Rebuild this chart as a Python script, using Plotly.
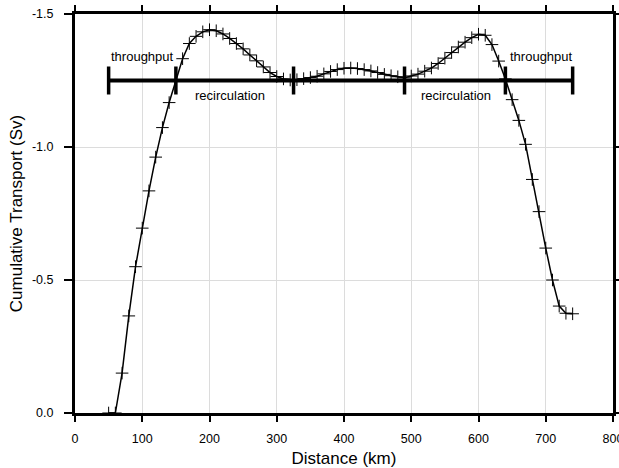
import plotly.graph_objects as go

# Cumulative transport along the section
distance_km = [50, 60, 70, 80, 90, 100, 110, 120, 130, 140,
               150, 160, 170, 180, 190, 200, 210, 220, 230, 240,
               250, 260, 270, 280, 290, 300, 310, 320, 330, 340,
               350, 360, 370, 380, 390, 400, 410, 420, 430, 440,
               450, 460, 470, 480, 490, 500, 510, 520, 530, 540,
               550, 560, 570, 580, 590, 600, 610, 620, 630, 640,
               650, 660, 670, 680, 690, 700, 710, 720, 730, 740]
transport_sv = [0.0, 0.0, -0.15, -0.365, -0.55, -0.695, -0.835, -0.962, -1.073, -1.167,
                -1.252, -1.332, -1.389, -1.416, -1.433, -1.441, -1.437, -1.425, -1.408, -1.389,
                -1.369, -1.346, -1.324, -1.301, -1.280, -1.265, -1.256, -1.252, -1.253, -1.257,
                -1.261, -1.266, -1.275, -1.284, -1.291, -1.296, -1.297, -1.295, -1.291, -1.286,
                -1.280, -1.273, -1.268, -1.264, -1.260, -1.267, -1.274, -1.285, -1.297, -1.314,
                -1.334, -1.355, -1.376, -1.394, -1.411, -1.424, -1.420, -1.385, -1.323, -1.256,
                -1.178, -1.100, -1.010, -0.878, -0.757, -0.620, -0.500, -0.402, -0.375, -0.373]

# Segment bar marking throughput / recirculation regions
bar_level = -1.25
bar_breaks = [50, 150, 325, 490, 640, 740]

segment_labels = ["throughput", "recirculation", "recirculation", "throughput"]
label_x = [100, 231, 567, 693]
label_y = [-1.342, -1.194, -1.194, -1.342]

x_ticks = [0, 100, 200, 300, 400, 500, 600, 700, 800]
y_ticks = [0.0, -0.5, -1.0, -1.5]

fig = go.Figure()

fig.add_trace(go.Scatter(
    x=[bar_breaks[0], bar_breaks[-1]], y=[bar_level, bar_level],
    mode="lines", line=dict(color="black", width=4),
    hoverinfo="skip", showlegend=False,
))
fig.add_trace(go.Scatter(
    x=bar_breaks, y=[bar_level] * len(bar_breaks),
    mode="markers",
    marker=dict(symbol="line-ns", size=20, color="black",
                line=dict(color="black", width=3.5)),
    hoverinfo="skip", showlegend=False,
))

fig.add_trace(go.Scatter(
    x=distance_km, y=transport_sv,
    mode="lines+markers",
    line=dict(color="black", width=1.5),
    marker=dict(symbol="cross-thin", size=9, color="black",
                line=dict(color="black", width=1)),
    showlegend=False,
))

for text, lx, ly in zip(segment_labels, label_x, label_y):
    fig.add_annotation(x=lx, y=ly, text=text, showarrow=False,
                       font=dict(family="Liberation Sans, Arial, sans-serif",
                                 size=13, color="black"))

axis_font = dict(family="Liberation Sans, Arial, sans-serif", size=12.5, color="black")
title_font = dict(family="Liberation Sans, Arial, sans-serif", size=17, color="black")

fig.update_xaxes(
    range=[0, 800], tickvals=x_ticks, ticktext=[str(v) for v in x_ticks],
    showline=True, linecolor="black", linewidth=3, mirror="ticks",
    ticks="outside", ticklen=6, tickwidth=2, tickcolor="black",
    showgrid=True, gridcolor="#dcdcdc", gridwidth=1, zeroline=False,
    tickfont=axis_font, ticklabelstandoff=6, automargin=False,
    ticklabeloverflow="allow",
    title=dict(text="Distance (km)", font=title_font, standoff=8),
)
fig.update_yaxes(
    range=[0, -1.5], tickvals=y_ticks, ticktext=[f"{v:.1f}" for v in y_ticks],
    showline=True, linecolor="black", linewidth=3, mirror="ticks",
    ticks="outside", ticklen=8, tickwidth=2, tickcolor="black",
    showgrid=True, gridcolor="#dcdcdc", gridwidth=1, zeroline=False,
    tickfont=axis_font, ticklabelstandoff=8, automargin=False,
    title=dict(text="Cumulative Transport (Sv)", font=title_font, standoff=6),
)

fig.update_layout(
    width=619, height=468,
    margin=dict(l=75, r=6, t=14, b=55),
    paper_bgcolor="white", plot_bgcolor="white",
)

fig.write_html("out.html")
